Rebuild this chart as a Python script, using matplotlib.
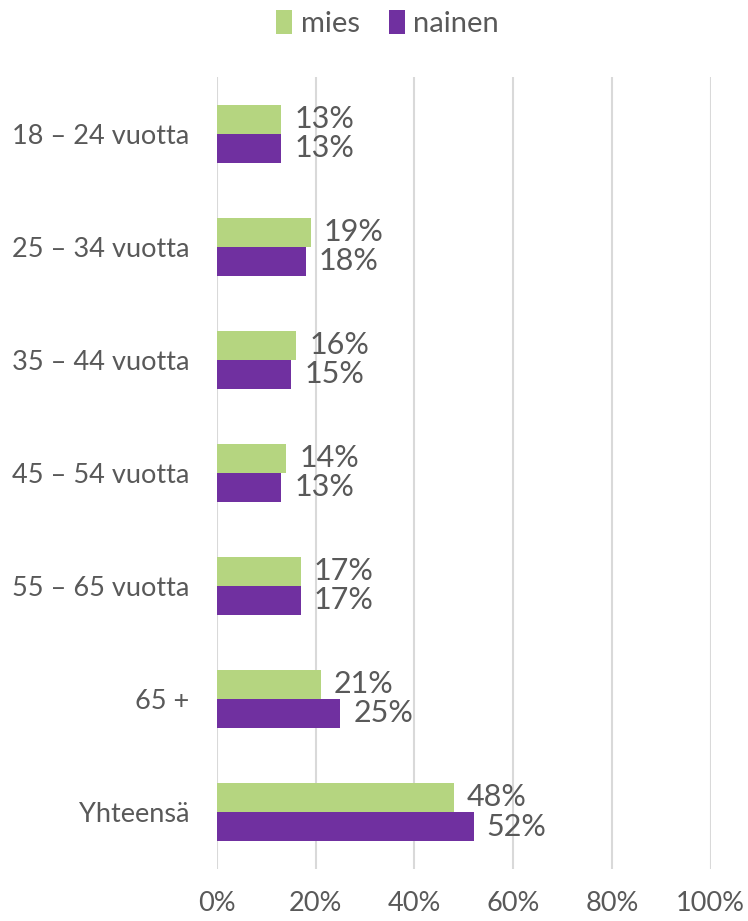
import numpy as np
import matplotlib
matplotlib.use("Agg")
import matplotlib.pyplot as plt

plt.rcParams['font.family'] = ['Liberation Sans Narrow', 'Lato', 'DejaVu Sans']

categories = ["18 – 24 vuotta", "25 – 34 vuotta", "35 – 44 vuotta", "45 – 54 vuotta",
              "55 – 65 vuotta", "65 +", "Yhteensä"]
mies = [13, 19, 16, 14, 17, 21, 48]
nainen = [13, 18, 15, 13, 17, 25, 52]
xticks = [0, 20, 40, 60, 80, 100]

green = "#B5D580"
purple = "#7030A0"
txt = "#595959"

fig = plt.figure(figsize=(7.48, 9.21), dpi=100)
ax = fig.add_axes([0.290, 0.057, 0.660, 0.859])

y = np.arange(len(categories))
h = 0.257
b1 = ax.barh(y - h / 2, mies, height=h, color=green, label="mies")
b2 = ax.barh(y + h / 2, nainen, height=h, color=purple, label="nainen")

for bars, vals in [(b1, mies), (b2, nainen)]:
    for bar, v in zip(bars, vals):
        ax.annotate("%d%%" % v, (v, bar.get_y() + bar.get_height() / 2),
                    xytext=(9.5, 0), textcoords="offset points", va="center", ha="left",
                    fontsize=22, color=txt)

ax.set_ylim(len(categories) - 0.5, -0.5)
ax.set_xlim(0, 100)
ax.set_yticks(y)
ax.set_yticklabels(categories, fontsize=19.5, color=txt)
ax.set_xticks(xticks)
ax.set_xticklabels(["%d%%" % t for t in xticks], fontsize=19.5, color=txt)
ax.tick_params(axis="both", length=0)
ax.tick_params(axis="y", pad=20)
ax.tick_params(axis="x", pad=16)
ax.grid(axis="x", color="#D9D9D9", linewidth=1.5)
ax.set_axisbelow(True)
for s in ax.spines.values():
    s.set_visible(False)

fig.legend(handles=[b1, b2], labels=["mies", "nainen"], loc="upper center",
           bbox_to_anchor=(0.518, 1.018), ncol=2, frameon=False, fontsize=21,
           labelcolor=txt, handlelength=0.55, handleheight=0.9, handletextpad=0.3,
           columnspacing=1.0)

fig.savefig("out.png", dpi=100)
